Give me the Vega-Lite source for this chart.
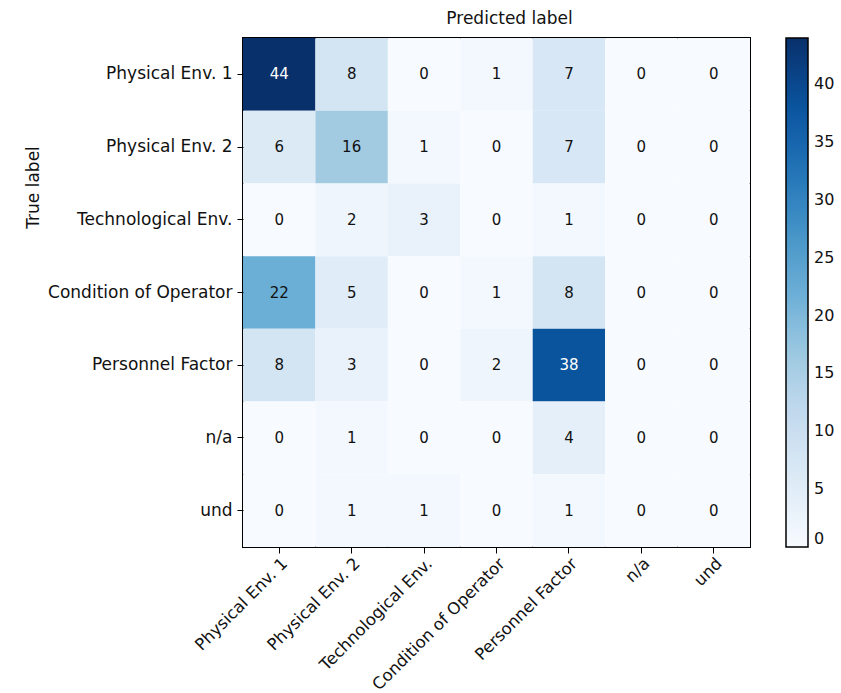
{
  "$schema": "https://vega.github.io/schema/vega-lite/v6.json",
  "width": 507,
  "height": 509,
  "autosize": "none",
  "padding": {"left": 243, "top": 38, "right": 91, "bottom": 146},
  "background": "white",
  "config": {
    "font": "DejaVu Sans",
    "view": {"stroke": "black", "strokeWidth": 2},
    "axis": {"labelFont": "DejaVu Sans", "labelFontSize": 17, "labelColor": "#111", "labelLimit": 0, "tickColor": "black", "tickSize": 6, "domain": false, "grid": false, "labelPadding": 5}
  },
  "title": {"text": "Predicted label", "fontSize": 17, "fontWeight": "normal", "font": "DejaVu Sans", "color": "#111", "offset": 10, "dx": 13},
  "data": {"values": [
    {"t": "Physical Env. 1", "p": "Physical Env. 1", "v": 44},
    {"t": "Physical Env. 1", "p": "Physical Env. 2", "v": 8},
    {"t": "Physical Env. 1", "p": "Technological Env.", "v": 0},
    {"t": "Physical Env. 1", "p": "Condition of Operator", "v": 1},
    {"t": "Physical Env. 1", "p": "Personnel Factor", "v": 7},
    {"t": "Physical Env. 1", "p": "n/a", "v": 0},
    {"t": "Physical Env. 1", "p": "und", "v": 0},
    {"t": "Physical Env. 2", "p": "Physical Env. 1", "v": 6},
    {"t": "Physical Env. 2", "p": "Physical Env. 2", "v": 16},
    {"t": "Physical Env. 2", "p": "Technological Env.", "v": 1},
    {"t": "Physical Env. 2", "p": "Condition of Operator", "v": 0},
    {"t": "Physical Env. 2", "p": "Personnel Factor", "v": 7},
    {"t": "Physical Env. 2", "p": "n/a", "v": 0},
    {"t": "Physical Env. 2", "p": "und", "v": 0},
    {"t": "Technological Env.", "p": "Physical Env. 1", "v": 0},
    {"t": "Technological Env.", "p": "Physical Env. 2", "v": 2},
    {"t": "Technological Env.", "p": "Technological Env.", "v": 3},
    {"t": "Technological Env.", "p": "Condition of Operator", "v": 0},
    {"t": "Technological Env.", "p": "Personnel Factor", "v": 1},
    {"t": "Technological Env.", "p": "n/a", "v": 0},
    {"t": "Technological Env.", "p": "und", "v": 0},
    {"t": "Condition of Operator", "p": "Physical Env. 1", "v": 22},
    {"t": "Condition of Operator", "p": "Physical Env. 2", "v": 5},
    {"t": "Condition of Operator", "p": "Technological Env.", "v": 0},
    {"t": "Condition of Operator", "p": "Condition of Operator", "v": 1},
    {"t": "Condition of Operator", "p": "Personnel Factor", "v": 8},
    {"t": "Condition of Operator", "p": "n/a", "v": 0},
    {"t": "Condition of Operator", "p": "und", "v": 0},
    {"t": "Personnel Factor", "p": "Physical Env. 1", "v": 8},
    {"t": "Personnel Factor", "p": "Physical Env. 2", "v": 3},
    {"t": "Personnel Factor", "p": "Technological Env.", "v": 0},
    {"t": "Personnel Factor", "p": "Condition of Operator", "v": 2},
    {"t": "Personnel Factor", "p": "Personnel Factor", "v": 38},
    {"t": "Personnel Factor", "p": "n/a", "v": 0},
    {"t": "Personnel Factor", "p": "und", "v": 0},
    {"t": "n/a", "p": "Physical Env. 1", "v": 0},
    {"t": "n/a", "p": "Physical Env. 2", "v": 1},
    {"t": "n/a", "p": "Technological Env.", "v": 0},
    {"t": "n/a", "p": "Condition of Operator", "v": 0},
    {"t": "n/a", "p": "Personnel Factor", "v": 4},
    {"t": "n/a", "p": "n/a", "v": 0},
    {"t": "n/a", "p": "und", "v": 0},
    {"t": "und", "p": "Physical Env. 1", "v": 0},
    {"t": "und", "p": "Physical Env. 2", "v": 1},
    {"t": "und", "p": "Technological Env.", "v": 1},
    {"t": "und", "p": "Condition of Operator", "v": 0},
    {"t": "und", "p": "Personnel Factor", "v": 1},
    {"t": "und", "p": "n/a", "v": 0},
    {"t": "und", "p": "und", "v": 0}
  ]},
  "encoding": {
    "x": {"field": "p", "type": "nominal", "sort": null, "scale": {"paddingInner": 0, "paddingOuter": 0},
      "axis": {"title": null, "labelAngle": -45, "labelAlign": "right", "labelBaseline": "top", "labelPadding": 2, "labelFontSize": 16.5}},
    "y": {"field": "t", "type": "nominal", "sort": null, "scale": {"paddingInner": 0, "paddingOuter": 0},
      "axis": {"title": "True label", "titleFont": "DejaVu Sans", "titleFontSize": 17, "titleFontWeight": "normal", "titleColor": "#111", "titleAngle": -90, "titleX": -210, "titleY": 149, "titleAlign": "center", "titleBaseline": "middle"}}
  },
  "layer": [
    {
      "mark": {"type": "rect"},
      "encoding": {
        "color": {"field": "v", "type": "quantitative",
          "scale": {"domain": [0, 5.5, 11, 16.5, 22, 27.5, 33, 38.5, 44], "range": ["#f7fbff", "#deebf7", "#c6dbef", "#9ecae1", "#6baed6", "#4292c6", "#2171b5", "#08519c", "#08306b"]},
          "legend": {"title": null, "orient": "none", "legendX": 543, "legendY": 0, "direction": "vertical", "gradientLength": 509, "gradientThickness": 22, "gradientStrokeColor": "black", "gradientStrokeWidth": 1.5, "values": [0, 5, 10, 15, 20, 25, 30, 35, 40], "labelFont": "DejaVu Sans", "labelFontSize": 16, "labelColor": "#111", "labelOffset": 6, "padding": 0}}
      }
    },
    {
      "mark": {"type": "text", "font": "DejaVu Sans", "fontSize": 15},
      "encoding": {
        "text": {"field": "v", "type": "quantitative"},
        "color": {"condition": {"test": "datum.v > 22", "value": "white"}, "value": "#111"}
      }
    }
  ]
}
